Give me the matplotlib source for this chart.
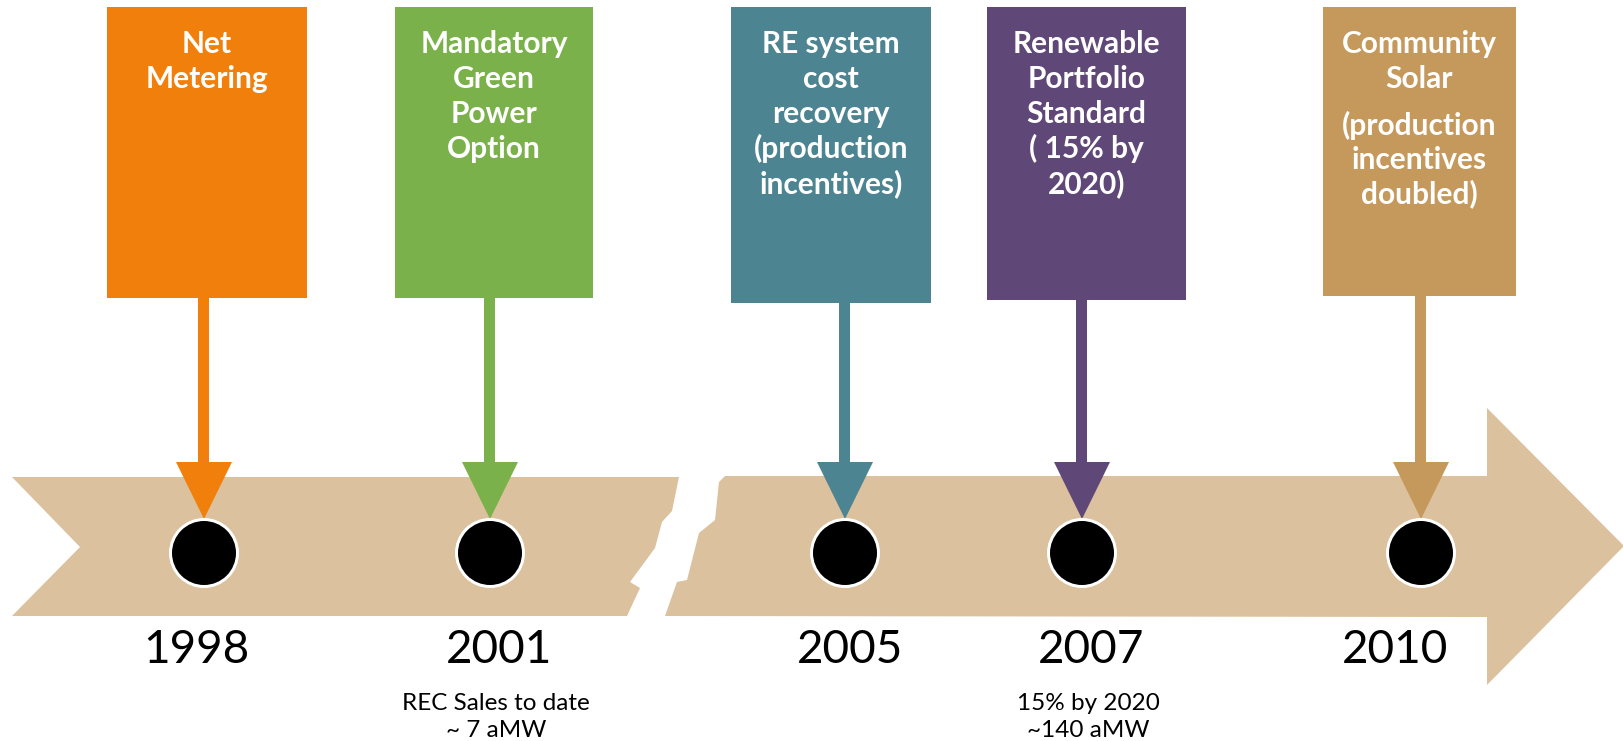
import matplotlib.pyplot as plt
from matplotlib.patches import Polygon, Rectangle, Circle

# milestones on the timeline
years = ['1998', '2001', '2005', '2007', '2010']
titles = ['Net\nMetering',
          'Mandatory\nGreen\nPower\nOption',
          'RE system\ncost\nrecovery\n(production\nincentives)',
          'Renewable\nPortfolio\nStandard\n( 15% by\n2020)',
          'Community\nSolar']
extra = ['', '', '', '', '(production\nincentives\ndoubled)']
notes = ['', 'REC Sales to date\n~ 7 aMW', '', '15% by 2020\n~140 aMW', '']
colors = ['#F0800B', '#7AB14A', '#4D8491', '#5F4878', '#C4995B']

# layout (pixels)
box_left = [107, 395, 731, 987, 1323]
box_right = [307, 593, 931, 1186, 1516]
box_bottom = [298, 298, 303, 300, 296]
dot_x = [204, 490, 845, 1082, 1421]
year_x = [196, 499, 850, 1091, 1395]
band = '#DBC19D'


def lines(x, y0, s, step, **kw):
    for k, ln in enumerate(s.split('\n')):
        ax.text(x, y0 + k * step, ln, ha='center', va='baseline', family='Lato', **kw)


fig = plt.figure(figsize=(16.24, 7.41), dpi=100)
ax = fig.add_axes([0, 0, 1, 1])
ax.set_xlim(0, 1624)
ax.set_ylim(741, 0)
ax.axis('off')

left_piece = [(12, 477), (679, 477), (672, 511), (662, 522), (655, 548), (630, 582),
              (640, 588), (627, 616), (12, 616), (80, 547)]
right_piece = [(725, 476), (1487, 476), (1487, 408), (1624, 546), (1487, 685), (1487, 617),
               (665, 616), (677, 582), (687, 580), (699, 533), (715, 520), (719, 482)]
ax.add_patch(Polygon(left_piece, closed=True, fc=band, ec='none'))
ax.add_patch(Polygon(right_piece, closed=True, fc=band, ec='none'))

for i in range(len(years)):
    c = colors[i]
    x0, x1 = box_left[i], box_right[i]
    cx = dot_x[i]
    ax.add_patch(Rectangle((x0, 7), x1 - x0, box_bottom[i] - 7, fc=c, ec='none'))
    # shaft and head
    ax.add_patch(Rectangle((cx - 5.5, box_bottom[i] - 1), 11, 462 - box_bottom[i] + 1, fc=c, ec='none'))
    ax.add_patch(Polygon([(cx - 28, 462), (cx + 28, 462), (cx, 519)], closed=True, fc=c, ec='none'))
    # dot
    ax.add_patch(Circle((cx, 553), 35, fc='white', ec='none'))
    ax.add_patch(Circle((cx, 553), 32, fc='black', ec='none'))
    mid = (x0 + x1) / 2
    lines(mid, 53, titles[i], 35, color='white', fontsize=21.5, fontweight='bold')
    if extra[i]:
        lines(mid, 135, extra[i], 34, color='white', fontsize=21.5, fontweight='bold')
    ax.text(year_x[i], 663, years[i], ha='center', va='baseline', color='black', fontsize=33,
            family='Lato')
    if notes[i]:
        lines(year_x[i] - 3, 710, notes[i], 27, color='black', fontsize=17.5)

fig.savefig('out.png', dpi=100)
